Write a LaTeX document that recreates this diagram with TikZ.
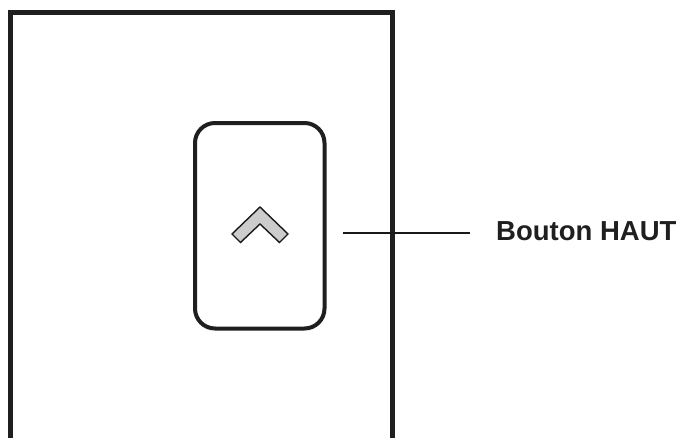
\documentclass[tikz,border=0pt]{standalone}
\usepackage{fontspec}
\setmainfont{Liberation Sans}
\begin{document}
\begin{tikzpicture}[x=1pt,y=-1pt,
  frame/.style={line width=4.5pt,draw=black!88},
  buttonbox/.style={draw=black!88,line width=4pt,rounded corners=20pt,minimum width=129.5pt,minimum height=205.5pt,inner sep=0pt},
  chevron/.style={draw=black!90,fill=black!20,line width=1.4pt,line join=miter},
  leader/.style={line width=1.8pt,draw=black!90},
  label/.style={font=\bfseries\fontsize{27.5}{30}\selectfont,text=black!88,inner sep=0pt,anchor=base west}]
\useasboundingbox (0,0) rectangle (686,437);
% outer device frame, open at the bottom
\draw[frame] (10.5,440) -- (10.5,12.5) -- (392.5,12.5) -- (392.5,440);
% button
\node[buttonbox] (btn) at (259.75,225.75) {};
% chevron
\draw[chevron] (232,234) -- (260,207) -- (288,234) -- (279.5,242.5) -- (260,224) -- (240.5,242.5) -- cycle;
% leader line
\coordinate (la) at (343,232.7);
\coordinate (lb) at (470,232.7);
\draw[leader] (la) -- (lb);
\node[label] (lbl) at (496,240) {Bouton HAUT};
\end{tikzpicture}
\end{document}
